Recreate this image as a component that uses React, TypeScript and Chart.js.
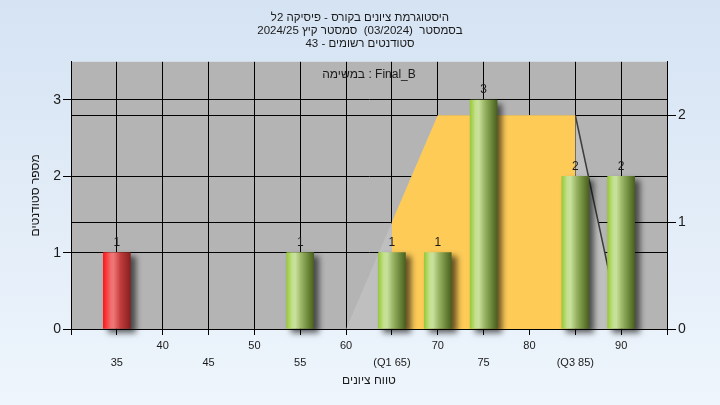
import React, { useEffect, useRef } from 'react';
import { Chart, registerables } from 'chart.js';

Chart.register(...registerables);

// ---- texts ----
const titleLines = [
  'היסטוגרמת ציונים בקורס - פיסיקה 2ל',
  'בסמסטר  (03/2024)  סמסטר קיץ 2024/25',
  'סטודנטים רשומים - 43',
];
const taskLabel = 'במשימה : Final_B';
const xAxisTitle = 'טווח ציונים';
const yAxisTitle = 'מספר סטודנטים';

// ---- histogram bins ----
const binCenters = [35, 55, 65, 70, 75, 85, 90];
const binCounts = [1, 1, 1, 1, 3, 2, 2];
const binGroups = ['fail', 'pass', 'pass', 'pass', 'pass', 'pass', 'pass'];

// ---- distribution shape (right axis) ----
const shapeX = [60, 70, 85, 90];
const shapeY = [0, 2, 2, 0];
const iqrX = [65, 70, 85];
const iqrY = [1, 2, 2];

// ---- x-axis ticks ----
const quartileValues = [65, 85];
const quartileNames = ['Q1', 'Q3'];
const xMin = 30;
const xMax = 95;
const xStep = 5;
const yMax = 3.5;
const y2Max = 2.5;

const FONT = "'Liberation Sans', 'DejaVu Sans', Arial, sans-serif";
const TEXT = '#1a1a1a';

const gradStops: Record<string, [number, string][]> = {
  pass: [
    [0, '#98ca38'],
    [0.2, '#c4e08e'],
    [0.32, '#c8e19c'],
    [0.55, '#97b262'],
    [0.8, '#6a8638'],
    [1, '#4a6020'],
  ],
  fail: [
    [0, '#ff1818'],
    [0.28, '#f07070'],
    [0.38, '#ee7676'],
    [0.65, '#c03a3a'],
    [1, '#862020'],
  ],
};

const BAR_W = 27;

function tickLabel(v: number): string | string[] {
  if (v === xMin || v === xMax) return '';
  const qi = quartileValues.indexOf(v);
  const text = qi >= 0 ? `(${quartileNames[qi]} ${v})` : String(v);
  return v % 10 === 0 ? [text] : ['', text];
}

const onlyIntegers = (s: any) => {
  s.ticks = s.ticks.filter((t: any) => Number.isInteger(t.value));
};

export default function App() {
  const ref = useRef<HTMLCanvasElement>(null);

  useEffect(() => {
    document.body.style.margin = '0';
    const canvas = ref.current;
    if (!canvas) return;

    const barFill = (c: any) => {
      const chart = c.chart;
      const raw = c.raw;
      const fallback = binGroups[c.dataIndex] === 'fail' ? '#e03030' : '#9cbf5a';
      if (!raw || !chart.scales || !chart.scales.x) return fallback;
      const px = chart.scales.x.getPixelForValue(raw.x);
      if (!Number.isFinite(px)) return fallback;
      const g = chart.ctx.createLinearGradient(px - BAR_W / 2, 0, px + BAR_W / 2, 0);
      const stops = gradStops[binGroups[c.dataIndex]] || gradStops.pass;
      stops.forEach(([o, col]) => g.addColorStop(o, col));
      return g;
    };

    const decor = {
      id: 'decor',
      beforeDraw(chart: any) {
        const { ctx, width, height, chartArea: a } = chart;
        ctx.save();
        const g = ctx.createLinearGradient(0, 0, 0, height);
        g.addColorStop(0, '#d5e3f3');
        g.addColorStop(1, '#eef5fc');
        ctx.fillStyle = g;
        ctx.fillRect(0, 0, width, height);
        ctx.fillStyle = '#b4b4b4';
        ctx.fillRect(a.left, a.top, a.right - a.left, a.bottom - a.top);
        ctx.restore();
      },
      beforeDatasetDraw(chart: any, args: any) {
        if (args.meta.type === 'bar') {
          const ctx = chart.ctx;
          ctx.save();
          ctx.shadowColor = 'rgba(0,0,0,0.6)';
          ctx.shadowBlur = 6;
          ctx.shadowOffsetX = 5;
          ctx.shadowOffsetY = 4;
        }
      },
      afterDatasetDraw(chart: any, args: any) {
        if (args.meta.type === 'bar') chart.ctx.restore();
      },
      afterDraw(chart: any) {
        const { ctx, chartArea: a } = chart;
        ctx.save();
        ctx.fillStyle = TEXT;
        ctx.font = `12px ${FONT}`;
        ctx.textAlign = 'center';
        ctx.textBaseline = 'bottom';
        const meta = chart.getDatasetMeta(0);
        meta.data.forEach((el: any, i: number) => {
          ctx.fillText(String(binCounts[i]), el.x, el.y - 4);
        });
        ctx.textBaseline = 'middle';
        ctx.fillText(taskLabel, (a.left + a.right) / 2, a.top + 13);
        ctx.restore();
      },
    };

    Chart.defaults.font.family = FONT;

    const chart = new Chart(canvas, {
      type: 'bar',
      data: {
        datasets: [
          {
            type: 'bar',
            label: 'counts',
            data: binCenters.map((x, i) => ({ x, y: binCounts[i] })),
            xAxisID: 'x',
            yAxisID: 'y',
            barThickness: BAR_W,
            backgroundColor: barFill,
            borderWidth: 0,
            order: 0,
            clip: false,
          } as any,
          {
            type: 'line',
            label: 'iqr',
            data: iqrX.map((x, i) => ({ x, y: iqrY[i] })),
            xAxisID: 'x',
            yAxisID: 'y2',
            backgroundColor: '#fecb57',
            borderColor: 'rgba(0,0,0,0)',
            borderWidth: 0,
            pointRadius: 0,
            fill: 'origin',
            tension: 0,
            order: 1,
          } as any,
          {
            type: 'line',
            label: 'shape',
            data: shapeX.map((x, i) => ({ x, y: shapeY[i] })),
            xAxisID: 'x',
            yAxisID: 'y2',
            backgroundColor: '#bfbfbf',
            borderColor: '#3c3c3c',
            borderWidth: 1.5,
            pointRadius: 0,
            fill: 'origin',
            tension: 0,
            order: 2,
            segment: {
              borderColor: (c: any) =>
                c.p0DataIndex === shapeX.length - 2 ? '#3c3c3c' : 'rgba(0,0,0,0)',
            },
          } as any,
        ],
      },
      options: {
        responsive: false,
        animation: false,
        events: [],
        layout: { padding: 0 },
        plugins: {
          legend: { display: false },
          tooltip: { enabled: false },
          title: {
            display: true,
            text: titleLines,
            color: TEXT,
            font: { size: 11.5, weight: 'normal', lineHeight: '12.6px' } as any,
            padding: { top: 12, bottom: 12 },
          },
        },
        scales: {
          x: {
            type: 'linear',
            position: 'bottom',
            min: xMin,
            max: xMax,
            offset: false,
            ticks: {
              stepSize: xStep,
              autoSkip: false,
              maxRotation: 0,
              minRotation: 0,
              padding: 2,
              color: TEXT,
              font: { size: 11, lineHeight: '17px' } as any,
              callback: (v: any) => tickLabel(Number(v)),
            },
            grid: { color: '#000', lineWidth: 1, tickLength: 6, offset: false },
            border: { display: true, color: '#000', width: 1 },
            title: {
              display: true,
              text: xAxisTitle,
              color: TEXT,
              font: { size: 12 },
              padding: { top: 0, bottom: 17 },
            },
            afterFit: (s: any) => {
              s.height = 76;
            },
          } as any,
          y: {
            position: 'left',
            min: 0,
            max: yMax,
            ticks: { stepSize: 1, padding: 2, color: TEXT, font: { size: 14 } },
            grid: { color: '#000', lineWidth: 1, tickLength: 8 },
            border: { display: true, color: '#000', width: 1 },
            title: {
              display: true,
              text: yAxisTitle,
              color: TEXT,
              font: { size: 12 },
              padding: { top: 28, bottom: 0 },
            },
            afterBuildTicks: onlyIntegers,
            afterFit: (s: any) => {
              s.width = 71;
            },
          } as any,
          y2: {
            position: 'right',
            min: 0,
            max: y2Max,
            ticks: { stepSize: 1, padding: 2, color: TEXT, font: { size: 14 } },
            grid: { color: '#000', lineWidth: 1, tickLength: 9 },
            border: { display: true, color: '#000', width: 1 },
            afterBuildTicks: onlyIntegers,
            afterFit: (s: any) => {
              s.width = 53;
            },
          } as any,
        },
      },
      plugins: [decor],
    });

    return () => chart.destroy();
  }, []);

  return <canvas ref={ref} width={720} height={405} style={{ display: 'block' }} />;
}
